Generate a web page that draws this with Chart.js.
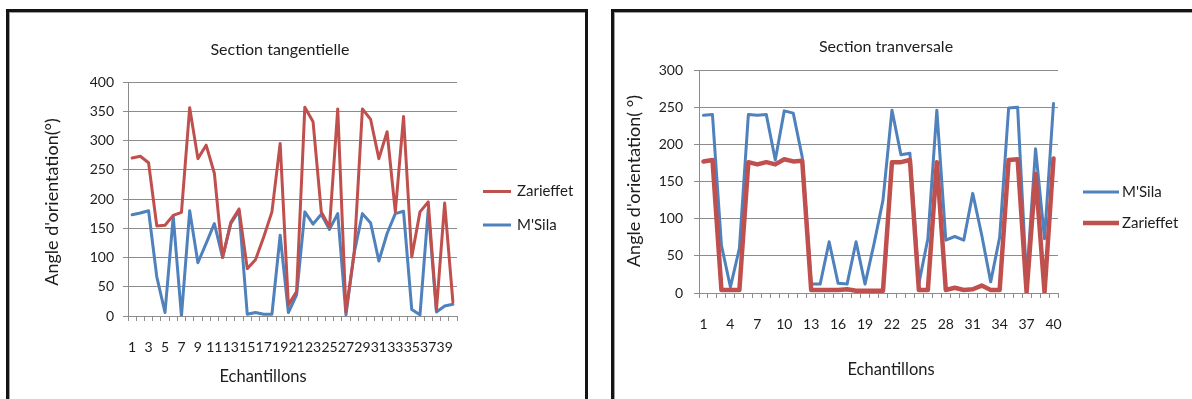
<!DOCTYPE html>
<html>
<head>
<meta charset="utf-8">
<script src="https://cdn.jsdelivr.net/npm/chart.js@4.4.1/dist/chart.umd.min.js"></script>
<style>
  html, body { margin: 0; padding: 0; background: #fff; }
  body { width: 1192px; height: 399px; position: relative; overflow: hidden; }
  .frame { position: absolute; border: 3px solid #141414; box-shadow: inset 1px 1px 0 #a0a0a0; }
  #frameLeft { left: 6px; top: 9px; width: 576px; height: 430px; }
  #frameRight { left: 611px; top: 9px; width: 640px; height: 430px; }
  canvas { position: absolute; top: 0; }
  #tangentielle { left: 0; }
  #transversale { left: 596px; }
</style>
</head>
<body>
<div class="frame" id="frameLeft"></div>
<div class="frame" id="frameRight"></div>
<canvas id="tangentielle" width="596" height="399"></canvas>
<canvas id="transversale" width="596" height="399"></canvas>
<script>
// Sample numbers (Echantillons 1..40)
const categories = ['1','2','3','4','5','6','7','8','9','10','11','12','13','14','15','16','17','18','19','20',
                    '21','22','23','24','25','26','27','28','29','30','31','32','33','34','35','36','37','38','39','40'];

// Section tangentielle: orientation angle (degrees)
const zarieffetTangentielle = [270, 273, 262, 154, 155, 172, 177, 356, 269, 292, 244, 100, 160, 183, 81, 96, 135, 178, 295, 19,
                               42, 357, 332, 178, 152, 354, 7, 108, 354, 336, 269, 315, 178, 341, 101, 178, 195, 10, 193, 24];
const msilaTangentielle = [173, 176, 180, 67, 6, 170, 0, 180, 91, 124, 158, 100, 158, 180, 3, 6, 3, 3, 138, 6,
                           36, 178, 157, 174, 148, 175, 2, 108, 175, 159, 94, 141, 175, 179, 11, 2, 182, 7, 17, 20];

// Section tranversale: orientation angle (degrees)
const msilaTransversale = [239, 240, 64, 8, 60, 240, 239, 240, 179, 245, 242, 183, 12, 12, 69, 13, 12, 69, 12, 66,
                           125, 246, 186, 188, 13, 73, 246, 71, 76, 71, 134, 78, 15, 75, 249, 250, 17, 194, 73, 255];
const zarieffetTransversale = [177, 179, 4, 4, 4, 176, 173, 176, 173, 180, 177, 178, 4, 4, 4, 4, 5, 3, 3, 3,
                               3, 176, 176, 179, 4, 4, 176, 4, 7, 4, 5, 10, 4, 4, 179, 180, 1, 160, 1, 181];

// Value axis tick labels
const tangentielleTicks = [0, 50, 100, 150, 200, 250, 300, 350, 400];
const transversaleTicks = [0, 50, 100, 150, 200, 250, 300];

const RED = '#C0504D';
const BLUE = '#4F81BD';
const GRID = '#8c8c8c';
const TEXT = '#1c1c1c';
const FONT = 'Lato, "Open Sans", sans-serif';

// Draws chart title, axis titles and the line-sample legend
const panelText = {
  id: 'panelText',
  afterDraw(chart, args, o) {
    const ctx = chart.ctx;
    ctx.save();
    ctx.fillStyle = TEXT;
    ctx.textAlign = 'center';
    ctx.textBaseline = 'middle';
    ctx.font = o.titleSize + 'px ' + FONT;
    ctx.fillText(o.title, o.titleX, o.titleY);
    ctx.font = o.axisSize + 'px ' + FONT;
    ctx.fillText(o.xTitle, o.xTitleX, o.xTitleY);
    ctx.save();
    ctx.translate(o.yTitleX, o.yTitleY);
    ctx.rotate(-Math.PI / 2);
    ctx.font = o.yTitleSize + 'px ' + FONT;
    ctx.fillText(o.yTitle, 0, 0);
    ctx.restore();
    // legend
    ctx.textAlign = 'left';
    ctx.font = o.legendSize + 'px ' + FONT;
    o.legend.forEach((dsIndex, k) => {
      const ds = chart.data.datasets[dsIndex];
      const y = o.legendY[k];
      ctx.strokeStyle = ds.borderColor;
      ctx.lineWidth = ds.borderWidth;
      ctx.lineCap = 'butt';
      ctx.beginPath();
      ctx.moveTo(o.legendLineX, y);
      ctx.lineTo(o.legendLineX + o.legendLineLen, y);
      ctx.stroke();
      ctx.fillStyle = TEXT;
      ctx.fillText(ds.label, o.legendTextX, y);
    });
    ctx.restore();
  }
};

function lineDataset(label, data, color, width) {
  return {
    label, data,
    borderColor: color, backgroundColor: color,
    borderWidth: width, pointRadius: 0, pointHoverRadius: 0,
    tension: 0, borderJoinStyle: 'round', borderCapStyle: 'round', fill: false
  };
}

function buildChart(canvasId, datasets, ticks, cfg) {
  const every = cfg.labelEvery;
  return new Chart(document.getElementById(canvasId), {
    type: 'line',
    data: { labels: categories, datasets },
    plugins: [panelText],
    options: {
      responsive: false,
      animation: false,
      events: [],
      layout: { padding: cfg.padding },
      plugins: {
        legend: { display: false },
        title: { display: false },
        tooltip: { enabled: false },
        panelText: cfg.text
      },
      scales: {
        x: {
          type: 'category',
          offset: true,
          grid: { offset: true, drawOnChartArea: false, drawTicks: true, tickLength: 5, color: GRID, lineWidth: 1 },
          border: { display: true, color: GRID, width: 1 },
          ticks: {
            autoSkip: false, maxRotation: 0, minRotation: 0,
            padding: cfg.xTickPadding, color: TEXT,
            font: { family: FONT, size: cfg.tickSize },
            callback(value, index) { return index % every === 0 ? categories[index] : ''; }
          },
          afterFit(scale) { scale.height = cfg.xHeight; }
        },
        y: {
          min: ticks[0], max: ticks[ticks.length - 1],
          grid: { color: GRID, lineWidth: 1, tickLength: 5 },
          border: { display: true, color: GRID, width: 1 },
          ticks: {
            stepSize: ticks[1] - ticks[0], padding: cfg.yTickPadding, color: TEXT,
            font: { family: FONT, size: cfg.tickSize }
          },
          afterFit(scale) { scale.width = cfg.yWidth; }
        }
      }
    }
  });
}

// Section tangentielle (left panel)
buildChart('tangentielle', [
  lineDataset('Zarieffet', zarieffetTangentielle, RED, 3),
  lineDataset("M'Sila", msilaTangentielle, BLUE, 3)
], tangentielleTicks, {
  labelEvery: 2,
  padding: { left: 0, top: 82, right: 139, bottom: 33 },
  xHeight: 50, yWidth: 128, xTickPadding: 18, yTickPadding: 9, tickSize: 14,
  text: {
    title: 'Section tangentielle', titleX: 280, titleY: 50, titleSize: 16,
    xTitle: 'Echantillons', xTitleX: 263, xTitleY: 377, axisSize: 16.5,
    yTitle: "Angle d'orientation(°)", yTitleX: 52, yTitleY: 202, yTitleSize: 18,
    legend: [0, 1], legendY: [191.5, 225], legendLineX: 483, legendLineLen: 28, legendTextX: 517, legendSize: 15
  }
});

// Section tranversale (right panel)
buildChart('transversale', [
  lineDataset('Zarieffet', zarieffetTransversale, RED, 4.5),
  lineDataset("M'Sila", msilaTransversale, BLUE, 3)
], transversaleTicks, {
  labelEvery: 3,
  padding: { left: 0, top: 70, right: 134, bottom: 56 },
  xHeight: 50, yWidth: 103, xTickPadding: 18, yTickPadding: 11, tickSize: 14,
  text: {
    title: 'Section tranversale', titleX: 290, titleY: 47, titleSize: 16,
    xTitle: 'Echantillons', xTitleX: 295, xTitleY: 370, axisSize: 16.5,
    yTitle: "Angle d'orientation( °)", yTitleX: 38, yTitleY: 181, yTitleSize: 18,
    legend: [1, 0], legendY: [192, 223], legendLineX: 487, legendLineLen: 36, legendTextX: 526, legendSize: 15
  }
});
</script>
</body>
</html>
